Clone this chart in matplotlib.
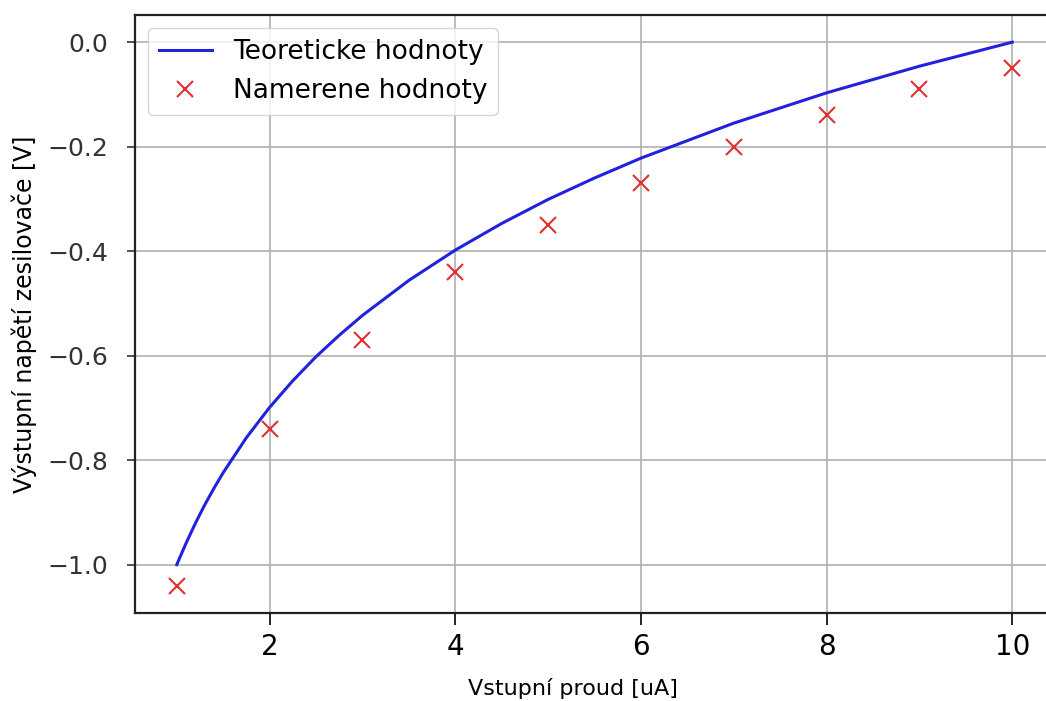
import matplotlib
matplotlib.use('Agg')
import matplotlib.pyplot as plt

# teoreticka krivka
x_teor = [1.0, 1.1, 1.2, 1.3, 1.4, 1.5, 1.75, 2.0, 2.25, 2.5, 2.75, 3.0, 3.5,
          4.0, 4.5, 5.0, 5.5, 6.0, 7.0, 8.0, 9.0, 10.0]
y_teor = [-1.000, -0.959, -0.921, -0.886, -0.854, -0.824, -0.757, -0.699,
          -0.648, -0.602, -0.561, -0.523, -0.456, -0.398, -0.347, -0.301,
          -0.260, -0.222, -0.155, -0.097, -0.046, 0.000]

# namerene hodnoty
x_mer = [1, 2, 3, 4, 5, 6, 7, 8, 9, 10]
y_mer = [-1.04, -0.74, -0.57, -0.44, -0.35, -0.27, -0.20, -0.14, -0.09, -0.05]

fig = plt.figure(figsize=(10.46, 7.01), dpi=100)
ax = fig.add_axes([135/1046, (701-612.7)/701, (1054-135)/1046, (612.7-15)/701])

ax.plot(x_teor, y_teor, color='#2222dd', linewidth=2.2, label='Teoreticke hodnoty')
ax.plot(x_mer, y_mer, 'x', color='#e03030', markersize=11, markeredgewidth=1.5,
        label='Namerene hodnoty')

ax.grid(True, color='#b0b0b0', linewidth=1.2)
ax.set_yticks([-1.0, -0.8, -0.6, -0.4, -0.2, 0.0])
ax.tick_params(axis='y', labelsize=18, colors='#333333', length=6, width=1.2, pad=13)
ax.tick_params(axis='x', labelsize=20, length=8.5, width=1.2, pad=6)
for s in ax.spines.values():
    s.set_linewidth(1.6)
    s.set_color('#222222')

ax.set_xlabel('Vstupní proud [uA]', fontsize=16, labelpad=12)
ax.xaxis.set_label_coords(0.477, -0.109)
ax.set_ylabel('Výstupní napětí zesilovače [V]', fontsize=17, labelpad=8)
ax.legend(loc='upper left', fontsize=19, handlelength=2.0)

fig.savefig('out.png', dpi=100)
